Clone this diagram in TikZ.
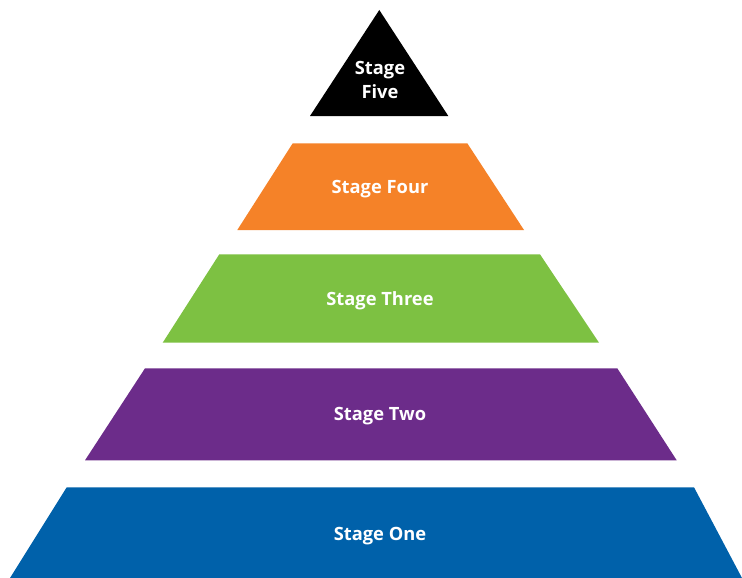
\documentclass[tikz,border=0pt]{standalone}
\usepackage{fontspec}
\setmainfont{Open Sans}
\definecolor{cfive}{HTML}{000000}
\definecolor{cfour}{HTML}{F58228}
\definecolor{cthree}{HTML}{7DC142}
\definecolor{ctwo}{HTML}{6C2C8A}
\definecolor{cone}{HTML}{0061AA}
\begin{document}
\begin{tikzpicture}[x=1pt,y=-1pt,
  lbl/.style={text=white,font=\fontsize{18.3}{24}\selectfont\bfseries,align=center,inner sep=0pt}]
\useasboundingbox (0,0) rectangle (742,578);
\fill[white] (0,0) rectangle (742,578);
\fill[cfive] (379.3,10) -- (448.3,116) -- (310,116) -- cycle;
\fill[cfour] (292.7,143.3) -- (467.3,143.3) -- (524,230) -- (237.3,230) -- cycle;
\fill[cthree] (219.3,254.3) -- (540,254.3) -- (599,342.7) -- (162.7,342.7) -- cycle;
\fill[ctwo] (145,368.3) -- (617.3,368.3) -- (676.7,460.3) -- (85,460.3) -- cycle;
\fill[cone] (66.7,487.3) -- (694,487.3) -- (742,578) -- (10,578) -- cycle;
\node[lbl] (five) at (380,80) {Stage\\Five};
\node[lbl] (four) at (380,189) {Stage Four};
\node[lbl] (three) at (380,301) {Stage Three};
\node[lbl] (two) at (380,416) {Stage Two};
\node[lbl] (one) at (380,536) {Stage One};
\end{tikzpicture}
\end{document}
